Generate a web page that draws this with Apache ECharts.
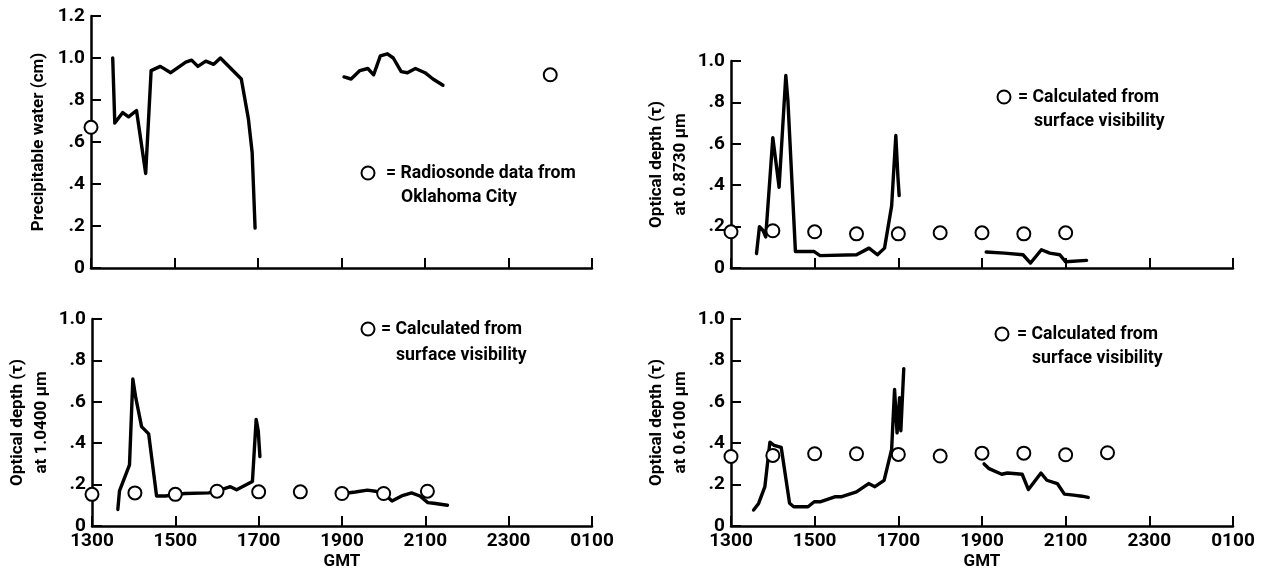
<!DOCTYPE html>
<html>
<head>
<meta charset="utf-8">
<title>Precipitable water and optical depth</title>
<script src="https://cdn.jsdelivr.net/npm/echarts@6/dist/echarts.min.js"></script>
</head>
<body style="margin:0;background:#fff">
<div id="main" style="width:1262px;height:574px;"></div>
<script type="text/javascript">
// times are GMT in decimal hours (25 = 0100 next day)
var gmtTicks = ['1300', '1500', '1700', '1900', '2100', '2300', '0100'];

// precipitable water (cm)
var pwLineA = [[13.52,1.0],[13.57,0.69],[13.76,0.74],[13.90,0.72],[14.09,0.75],[14.31,0.45],[14.44,0.94],[14.66,0.96],[14.91,0.93],[15.27,0.98],[15.41,0.99],[15.56,0.96],[15.75,0.985],[15.94,0.97],[16.10,1.0],[16.60,0.90],[16.77,0.71],[16.86,0.55],[16.93,0.19]];
var pwLineB = [[19.06,0.91],[19.23,0.90],[19.44,0.94],[19.63,0.95],[19.77,0.92],[19.93,1.01],[20.10,1.02],[20.24,1.0],[20.43,0.935],[20.58,0.93],[20.77,0.95],[21.0,0.93],[21.19,0.90],[21.43,0.87]];
var pwRadiosonde = [[13.0,0.67],[24.0,0.92]];

// optical depth at 0.8730 um
var od873LineA = [[13.61,0.07],[13.68,0.20],[13.77,0.18],[13.83,0.15],[14.0,0.63],[14.15,0.39],[14.31,0.93],[14.36,0.81],[14.54,0.08],[14.98,0.08],[15.13,0.06],[16.0,0.064],[16.3,0.096],[16.5,0.064],[16.67,0.096],[16.84,0.30],[16.94,0.64],[16.99,0.44],[17.02,0.35]];
var od873LineB = [[19.1,0.077],[19.54,0.072],[19.98,0.064],[20.16,0.024],[20.42,0.088],[20.62,0.072],[20.86,0.064],[21.0,0.03],[21.5,0.037]];
var od873Visibility = [[13,0.175],[14,0.18],[15,0.175],[16,0.165],[17,0.165],[18,0.17],[19,0.17],[20,0.165],[21,0.17]];

// optical depth at 1.0400 um
var od1040LineA = [[13.62,0.08],[13.66,0.17],[13.9,0.295],[13.98,0.71],[14.05,0.62],[14.19,0.48],[14.36,0.445],[14.55,0.145],[14.76,0.145],[15.23,0.157],[15.8,0.16],[16.0,0.168],[16.32,0.19],[16.47,0.175],[16.85,0.215],[16.94,0.515],[16.99,0.46],[17.03,0.335]];
var od1040LineB = [[19.04,0.157],[19.32,0.164],[19.61,0.173],[19.8,0.168],[20.0,0.157],[20.2,0.121],[20.43,0.145],[20.67,0.16],[20.87,0.145],[21.06,0.113],[21.2,0.11],[21.53,0.10]];
var od1040Visibility = [[13,0.153],[14.03,0.16],[15,0.153],[16,0.168],[17,0.165],[18,0.165],[19,0.157],[20,0.157],[21.05,0.168]];

// optical depth at 0.6100 um
var od610LineA = [[13.54,0.077],[13.66,0.109],[13.81,0.19],[13.93,0.405],[14.03,0.39],[14.2,0.38],[14.4,0.11],[14.5,0.093],[14.84,0.093],[14.99,0.117],[15.13,0.117],[15.48,0.141],[15.63,0.141],[16.0,0.165],[16.29,0.205],[16.44,0.19],[16.66,0.22],[16.84,0.37],[16.91,0.66],[16.97,0.45],[17.03,0.62],[17.06,0.46],[17.13,0.76]];
var od610LineB = [[19.05,0.30],[19.17,0.277],[19.47,0.25],[19.61,0.256],[19.96,0.25],[20.11,0.176],[20.41,0.256],[20.55,0.221],[20.8,0.205],[20.97,0.154],[21.19,0.149],[21.39,0.144],[21.54,0.138]];
var od610Visibility = [[13,0.336],[14,0.341],[15,0.349],[16,0.349],[17,0.346],[18,0.338],[19,0.352],[20,0.352],[21,0.344],[22,0.354]];

var FONT = "Roboto, 'Liberation Sans', sans-serif";
var T0 = 13;

function shift(arr) {
    return arr.map(function (p) { return [p[0] - T0, p[1]]; });
}
function yFmt(v) {
    if (v === 0) return '0';
    if (v >= 1) return v.toFixed(1);
    return '.' + Math.round(v * 10);
}

var panels = [
    { grid: {left: 91, top: 16, width: 501, height: 252}, ymax: 1.2, xlabels: false, name: 'Precipitable water (cm)', gap: 40,
      lines: [pwLineA, pwLineB], dots: pwRadiosonde },
    { grid: {left: 731, top: 61, width: 502, height: 207}, ymax: 1.0, xlabels: false, name: 'Optical depth (\u03c4)\nat 0.8730 \u03bcm', gap: 38,
      lines: [od873LineA, od873LineB], dots: od873Visibility },
    { grid: {left: 92, top: 319, width: 500, height: 207}, ymax: 1.0, xlabels: true, name: 'Optical depth (\u03c4)\nat 1.0400 \u03bcm', gap: 38,
      lines: [od1040LineA, od1040LineB], dots: od1040Visibility },
    { grid: {left: 731, top: 319, width: 502, height: 207}, ymax: 1.0, xlabels: true, name: 'Optical depth (\u03c4)\nat 0.6100 \u03bcm', gap: 38,
      lines: [od610LineA, od610LineB], dots: od610Visibility }
];

var axisLine = { lineStyle: { color: '#000', width: 2.5 } };
var axisTick = { inside: true, length: 10, lineStyle: { color: '#000', width: 2 } };

var grids = [], xAxes = [], yAxes = [], series = [];
panels.forEach(function (p, i) {
    grids.push(p.grid);
    xAxes.push({
        type: 'value', gridIndex: i, min: 0, max: 12, interval: 2,
        axisLine: axisLine, axisTick: axisTick, splitLine: { show: false },
        axisLabel: { show: p.xlabels, color: '#000', fontFamily: FONT, fontWeight: 'bold', fontSize: 19, margin: 6,
            formatter: function (v) { return gmtTicks[Math.round(v / 2)]; } },
        name: p.xlabels ? 'GMT' : '', nameLocation: 'middle', nameGap: 27,
        nameTextStyle: { color: '#000', fontFamily: FONT, fontWeight: 'bold', fontSize: 17 }
    });
    yAxes.push({
        type: 'value', gridIndex: i, min: 0, max: p.ymax, interval: 0.2,
        axisLine: axisLine, axisTick: axisTick, splitLine: { show: false },
        axisLabel: { color: '#000', fontFamily: FONT, fontWeight: 'bold', fontSize: 19, margin: 6, formatter: yFmt },
        name: p.name, nameLocation: 'middle', nameRotate: 90, nameGap: p.gap,
        nameTextStyle: { color: '#000', fontFamily: FONT, fontWeight: 'bold', fontSize: 17, lineHeight: 24 }
    });
    p.lines.forEach(function (seg) {
        series.push({
            type: 'line', xAxisIndex: i, yAxisIndex: i, data: shift(seg),
            showSymbol: false, symbol: 'none', z: 3,
            lineStyle: { color: '#000', width: 3.4, join: 'round', cap: 'round' }
        });
    });
    series.push({
        type: 'scatter', xAxisIndex: i, yAxisIndex: i, data: shift(p.dots),
        symbol: 'circle', symbolSize: 13, clip: false, z: 5,
        itemStyle: { color: '#fff', borderColor: '#000', borderWidth: 2, opacity: 1 }
    });
});

// in-panel keys
var keyStyle = { fill: '#000', font: "bold 19px " + FONT, textVerticalAlign: 'middle' };
function key(cx, cy, line1, x1, line2, x2, y2) {
    return [
        { type: 'circle', shape: { cx: cx, cy: cy, r: 6.5 }, style: { fill: '#fff', stroke: '#000', lineWidth: 2 }, z: 10 },
        { type: 'text', x: x1, y: cy, scaleX: 0.93, style: Object.assign({ text: line1 }, keyStyle), z: 10 },
        { type: 'text', x: x2, y: y2, scaleX: 0.93, style: Object.assign({ text: line2 }, keyStyle), z: 10 }
    ];
}
var graphics = [].concat(
    key(368, 173, '= Radiosonde data from', 386, 'Oklahoma City', 401, 197),
    key(1004, 97, '= Calculated from', 1018, 'surface visibility', 1034, 121),
    key(368, 329, '= Calculated from', 381, 'surface visibility', 396, 355),
    key(1002, 334, '= Calculated from', 1017, 'surface visibility', 1032, 358)
);

var myChart = echarts.init(document.getElementById('main'));
myChart.setOption({
    animation: false,
    backgroundColor: '#fff',
    grid: grids,
    xAxis: xAxes,
    yAxis: yAxes,
    series: series,
    graphic: graphics
});
</script>
</body>
</html>
